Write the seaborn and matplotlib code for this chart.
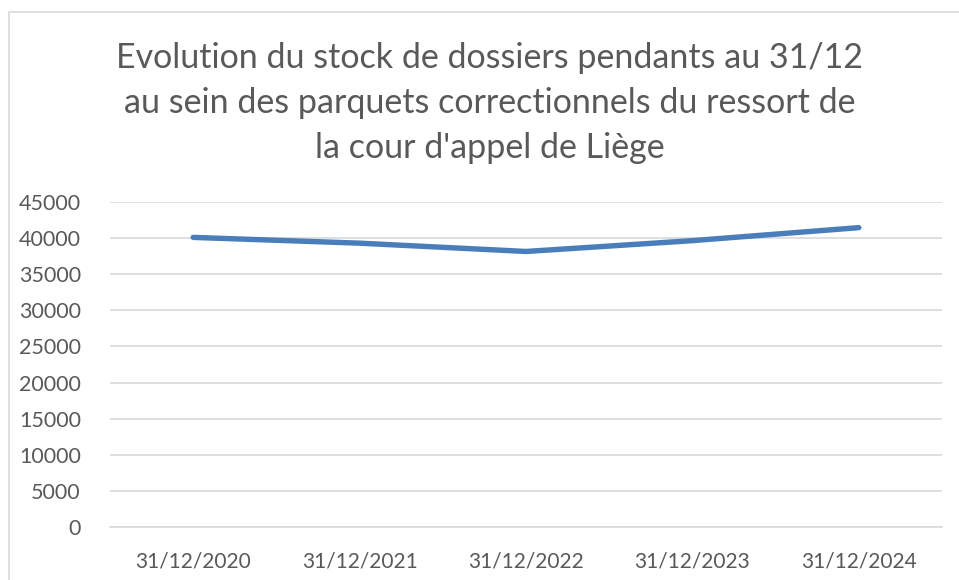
import matplotlib
matplotlib.use("Agg")
import matplotlib.pyplot as plt
import matplotlib.patches as mpatches
import seaborn as sns
import pandas as pd

dates = ["31/12/2020", "31/12/2021", "31/12/2022", "31/12/2023", "31/12/2024"]
stock = [40100, 39300, 38150, 39650, 41450]
y_ticks = [0, 5000, 10000, 15000, 20000, 25000, 30000, 35000, 40000, 45000]
title_lines = ["Evolution du stock de dossiers pendants au 31/12",
               "au sein des parquets correctionnels du ressort de",
               "la cour d'appel de Liège"]

sns.set_theme(style="white")
plt.rcParams['font.family'] = ['Lato', 'DejaVu Sans']

W, H = 959, 580
fig = plt.figure(figsize=(W / 100, H / 100), dpi=100)
ax = fig.add_axes([110 / W, 1 - 527 / H, (942 - 110) / W, (527 - 202) / H])

df = pd.DataFrame({"date": dates, "stock": stock})
df["pos"] = range(len(dates))
sns.lineplot(data=df, x="pos", y="stock", ax=ax, color="#4A7EBB",
             linewidth=3.9, solid_capstyle="round", zorder=3)

ax.set_xlim(-0.5, len(dates) - 0.5)
ax.set_ylim(0, 45000)
ax.set_yticks(y_ticks)
ax.set_yticklabels([str(v) for v in y_ticks])
ax.set_xticks(range(len(dates)))
ax.set_xticklabels(dates)
ax.set_xticks([i - 0.5 for i in range(len(dates) + 1)], minor=True)
ax.tick_params(axis="x", which="major", length=0, pad=18, labelsize=15, colors="#595959")
ax.tick_params(axis="x", which="minor", length=6, width=1, color="#D9D9D9", direction="out")
ax.tick_params(axis="y", length=0, pad=21, labelsize=15.5, colors="#595959")
ax.set_xlabel("")
ax.set_ylabel("")
ax.grid(axis="y", color="#D9D9D9", linewidth=1.2)
ax.set_axisbelow(True)
for s in ["top", "right", "left"]:
    ax.spines[s].set_visible(False)
ax.spines["bottom"].set_color("#D9D9D9")
ax.spines["bottom"].set_linewidth(1.2)

for i, (line, yc) in enumerate(zip(title_lines, [58, 103, 148])):
    fig.text(489.5 / W, 1 - yc / H, line, ha="center", va="center",
             fontsize=24.5, color="#595959")

fig.patches.append(mpatches.Rectangle((9 / W, -0.1), 1.0, (H - 12) / H + 0.1,
                                      transform=fig.transFigure, fill=False,
                                      edgecolor="#D9D9D9", linewidth=1.2))

fig.savefig("out.png", dpi=100, facecolor="white")
